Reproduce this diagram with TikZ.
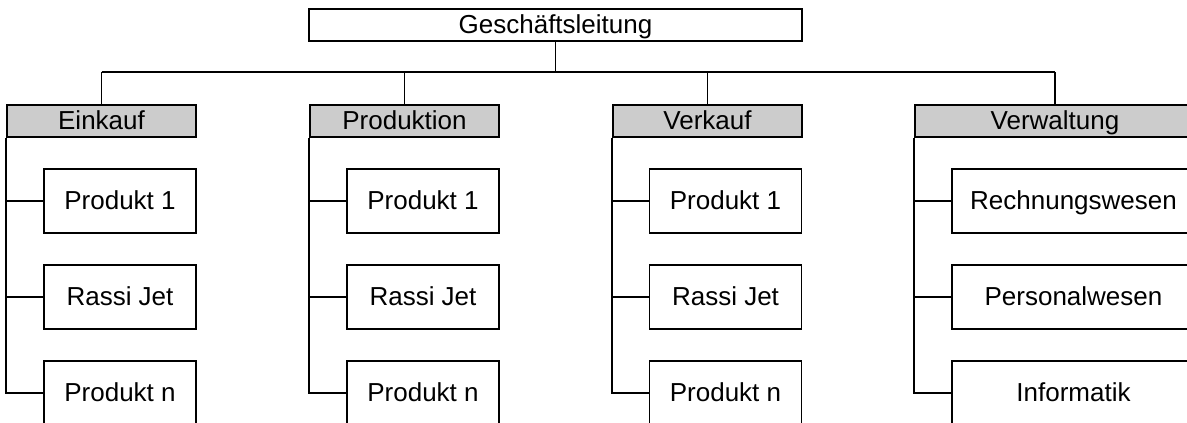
\documentclass[tikz,border=0pt]{standalone}
\usepackage{fontspec}
\setmainfont{Liberation Sans}
\definecolor{deptgray}{RGB}{204,204,204}
\begin{document}
\begin{tikzpicture}[x=0.75pt,y=-0.75pt,
  every node/.style={font=\fontsize{19.5}{23}\selectfont, inner sep=0pt, line width=1.25pt, draw=black, text height=14pt, text depth=0.5pt},
  topbox/.style={rectangle, minimum width=493*0.75pt, minimum height=32*0.75pt},
  deptbox/.style={rectangle, fill=deptgray, minimum width=189*0.75pt, minimum height=32*0.75pt},
  widedept/.style={deptbox, minimum width=280*0.75pt},
  childbox/.style={rectangle, minimum width=152*0.75pt, minimum height=64*0.75pt},
  widechild/.style={childbox, minimum width=243*0.75pt},
  conn/.style={line width=1.25pt, draw=black}]
\useasboundingbox (0,0) rectangle (1187,423);
\clip (0,0) rectangle (1187,423);
\fill[white] (0,0) rectangle (1187,423);

\node[topbox] (top) at (555.5,25) {Geschäftsleitung};
\coordinate (bus) at (555.5,72);

\node[deptbox] (d1) at (101.5,121) {Einkauf};
\node[deptbox] (d2) at (404.5,121) {Produktion};
\node[deptbox] (d3) at (707.5,121) {Verkauf};
\node[widedept] (d4) at (1055,121) {Verwaltung};

\node[childbox] (a1) at (120,201) {Produkt 1};
\node[childbox] (a2) at (120,297) {Rassi Jet};
\node[childbox] (a3) at (120,393) {Produkt n};
\node[childbox] (b1) at (423,201) {Produkt 1};
\node[childbox] (b2) at (423,297) {Rassi Jet};
\node[childbox] (b3) at (423,393) {Produkt n};
\node[childbox] (c1) at (725.5,201) {Produkt 1};
\node[childbox] (c2) at (725.5,297) {Rassi Jet};
\node[childbox] (c3) at (725.5,393) {Produkt n};
\node[widechild] (e1) at (1073.5,201) {Rechnungswesen};
\node[widechild] (e2) at (1073.5,297) {Personalwesen};
\node[widechild] (e3) at (1073.5,393) {Informatik};

\draw[conn] (top.south) -- (bus);
\draw[conn] (d1.north |- bus) -- (d4.north |- bus);
\foreach \d in {d1,d2,d3,d4} \draw[conn] (\d.north |- bus) -- (\d.north);

\foreach \d/\p in {d1/a,d2/b,d3/c,d4/e} {
  \draw[conn] (\d.south west) |- (\p3.west);
  \draw[conn] (\d.south west |- \p1.west) -- (\p1.west);
  \draw[conn] (\d.south west |- \p2.west) -- (\p2.west);
}
\end{tikzpicture}
\end{document}
